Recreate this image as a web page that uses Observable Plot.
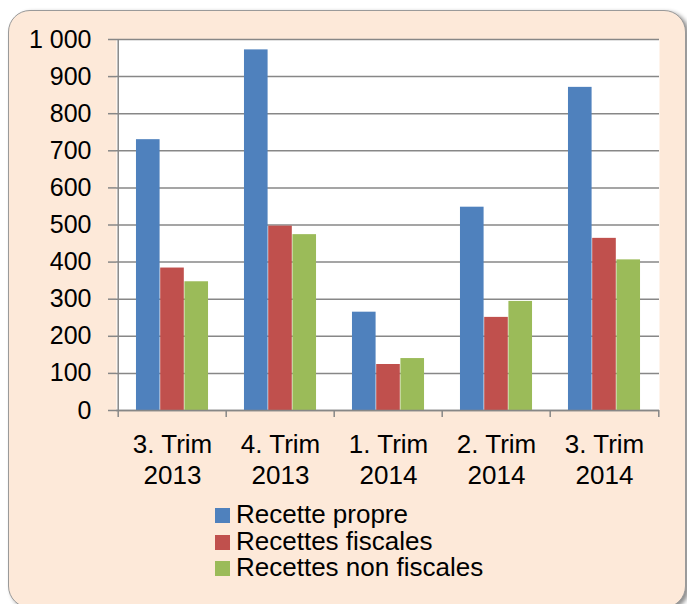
<!DOCTYPE html>
<html>
<head>
<meta charset="utf-8">
<script src="https://cdn.jsdelivr.net/npm/d3@7"></script>
<script src="https://cdn.jsdelivr.net/npm/@observablehq/plot@0.6"></script>
<style>
  html, body { margin: 0; padding: 0; background: #ffffff; }
  body { width: 687px; height: 604px; overflow: hidden; position: relative; font-family: "Liberation Sans", Arial, sans-serif; }
  #bg { position: absolute; left: 8px; top: 10px; width: 676px; height: 596px; background: #FDE9D9; border: 1px solid #9a9a9a; border-radius: 22px; box-shadow: 3px 2px 4px rgba(0,0,0,0.45); }
  #chart { position: absolute; left: 0; top: 0; }
  #legend { position: absolute; left: 215px; top: 501px; font-size: 26px; color: #000; }
  .row { position: relative; height: 26.5px; line-height: 26.5px; padding-left: 21px; white-space: nowrap; }
  .sw { position: absolute; left: 0; top: 7px; width: 15px; height: 15px; }
</style>
</head>
<body>
<div id="bg"></div>
<div id="chart"></div>
<div id="legend"></div>
<script>
// ---- data ----
const categories = ["3. Trim\n2013", "4. Trim\n2013", "1. Trim\n2014", "2. Trim\n2014", "3. Trim\n2014"];
const seriesNames = ["Recette propre", "Recettes fiscales", "Recettes non fiscales"];
const recettePropre = [730, 972, 265, 548, 871];
const recettesFiscales = [384, 497, 124, 251, 464];
const recettesNonFiscales = [347, 474, 140, 294, 406];
const seriesColors = ["#4F81BD", "#C0504D", "#9BBB59"];
const yTicks = [0, 100, 200, 300, 400, 500, 600, 700, 800, 900, 1000];
const yTickLabels = ["0", "100", "200", "300", "400", "500", "600", "700", "800", "900", "1 000"];

const seriesValues = [recettePropre, recettesFiscales, recettesNonFiscales];
const data = [];
seriesNames.forEach((s, si) => categories.forEach((c, ci) => data.push({cat: c, series: s, value: seriesValues[si][ci]})));

// ---- layout ----
const W = 687, H = 500, mL = 116, mR = 28, mT = 39, mB = 90;
const step = (W - mL - mR) / categories.length;
const barW = step * 0.223;
const groupOff = (step - 3 * barW) / 2;
const grid = "#878787";

const bars = seriesNames.map((s, si) => Plot.barY(data.filter(d => d.series === s), {
  x: "cat", y: "value", fill: seriesColors[si],
  insetLeft: groupOff + si * barW,
  insetRight: step - groupOff - (si + 1) * barW
}));

const chart = Plot.plot({
  width: W, height: H,
  marginLeft: mL, marginRight: mR, marginTop: mT, marginBottom: mB,
  style: {background: "transparent", fontFamily: "'Liberation Sans', Arial, sans-serif", color: "#000"},
  x: {domain: categories, padding: 0, label: null},
  y: {domain: [0, 1000], label: null},
  marks: [
    Plot.frame({fill: "white", stroke: null}),
    Plot.gridY(yTicks, {stroke: grid, strokeOpacity: 1, strokeWidth: 1.5}),
    ...bars,
    Plot.ruleY([0], {stroke: grid, strokeWidth: 1.5}),
    Plot.ruleX([categories[0]], {stroke: grid, strokeWidth: 1.5, dx: -step / 2, insetBottom: -7}),
    Plot.ruleX(categories.slice(1), {y1: 0, y2: 0, stroke: grid, strokeWidth: 1.5, dx: -step / 2, insetBottom: -7}),
    Plot.ruleX([categories[categories.length - 1]], {y1: 0, y2: 0, stroke: grid, strokeWidth: 1.5, dx: step / 2, insetBottom: -7}),
    Plot.axisY(yTicks, {label: null, tickSize: 8, tickPadding: 17, fontSize: 25, stroke: grid, strokeWidth: 1.5, fill: "#000",
      tickFormat: d => yTickLabels[yTicks.indexOf(d)]}),
    Plot.axisX({label: null, tickSize: 0, tickPadding: 20, fontSize: 26, lineHeight: 1.2, fill: "#000"})
  ]
});
document.getElementById("chart").appendChild(chart);

const legend = document.getElementById("legend");
seriesNames.forEach((s, i) => {
  const row = document.createElement("div");
  row.className = "row";
  const sw = document.createElement("span");
  sw.className = "sw";
  sw.style.background = seriesColors[i];
  row.appendChild(sw);
  row.appendChild(document.createTextNode(s));
  legend.appendChild(row);
});
</script>
</body>
</html>
